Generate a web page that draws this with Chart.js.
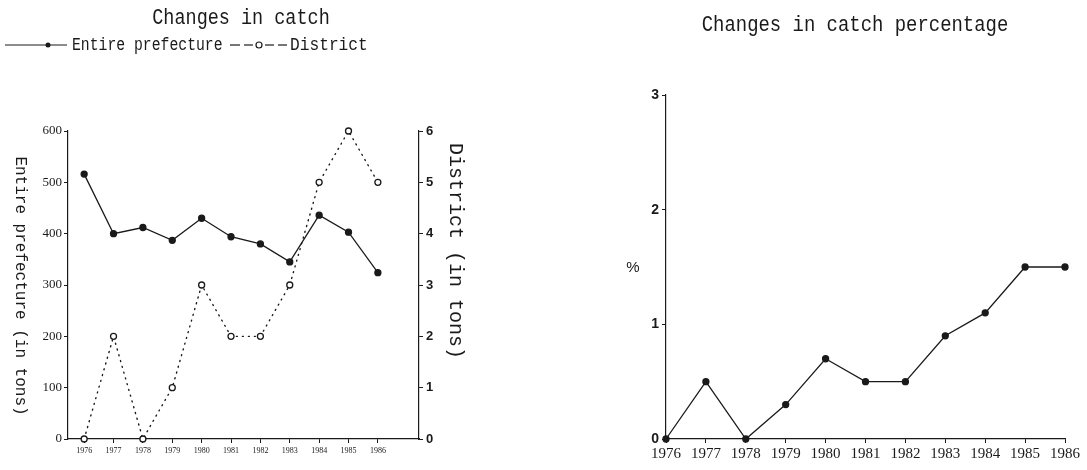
<!DOCTYPE html>
<html>
<head>
<meta charset="utf-8">
<script src="https://cdn.jsdelivr.net/npm/chart.js@4.4.1/dist/chart.umd.min.js"></script>
<style>
  html, body { margin: 0; padding: 0; background: #fff; }
  body { width: 1087px; height: 470px; position: relative; overflow: hidden; }
  #catchChart { position: absolute; left: 0; top: 0; }
  #pctChart { position: absolute; left: 560px; top: 0; }
</style>
</head>
<body>
<canvas id="catchChart" width="470" height="470"></canvas>
<canvas id="pctChart" width="527" height="470"></canvas>
<script>
// values
const years = [1976, 1977, 1978, 1979, 1980, 1981, 1982, 1983, 1984, 1985, 1986];
const prefectureTons = [516, 400, 412, 387, 430, 394, 380, 345, 436, 403, 324];
const districtTons = [0, 2, 0, 1, 3, 2, 2, 3, 5, 6, 5];
const catchPercent = [0, 0.5, 0, 0.3, 0.7, 0.5, 0.5, 0.9, 1.1, 1.5, 1.5];

const ink = '#1a1a1a';
const mono = '"Liberation Mono", "DejaVu Sans Mono", monospace';

// draws titles / rotated axis captions as canvas text
const extraText = {
    id: 'extraText',
    afterDraw(chart, args, opts) {
        const ctx = chart.ctx;
        (opts.items || []).forEach(it => {
            ctx.save();
            ctx.translate(it.x, it.y);
            if (it.rotate) ctx.rotate(it.rotate);
            ctx.scale(it.scaleX || 1, 1);
            ctx.font = it.font;
            ctx.fillStyle = ink;
            ctx.textAlign = it.align || 'center';
            ctx.textBaseline = 'middle';
            ctx.fillText(it.text, 0, 0);
            ctx.restore();
        });
    }
};

// little hand-made legend for the left chart
const legendMarks = {
    id: 'legendMarks',
    afterDraw(chart, args, opts) {
        if (!opts.show) return;
        const ctx = chart.ctx;
        const y = 45;
        ctx.save();
        ctx.strokeStyle = ink;
        ctx.fillStyle = ink;
        ctx.lineWidth = 1.2;
        ctx.beginPath();
        ctx.moveTo(5, y); ctx.lineTo(67, y);
        ctx.stroke();
        ctx.beginPath();
        ctx.arc(48, y, 2.5, 0, Math.PI * 2);
        ctx.fill();
        // dashed district sample
        [[230, 240], [244, 253], [265, 274], [278, 287]].forEach(d => {
            ctx.beginPath();
            ctx.moveTo(d[0], y); ctx.lineTo(d[1], y);
            ctx.stroke();
        });
        ctx.beginPath();
        ctx.fillStyle = '#fff';
        ctx.arc(259, y, 3, 0, Math.PI * 2);
        ctx.fill();
        ctx.stroke();
        ctx.restore();
    }
};

Chart.register(extraText, legendMarks);

const axisGrid = { drawOnChartArea: false, color: ink, tickLength: 4, tickWidth: 1 };
const axisBorder = { display: true, color: ink, width: 1.2 };

new Chart(document.getElementById('catchChart'), {
    type: 'line',
    data: {
        datasets: [{
            label: 'Entire prefecture',
            data: years.map((yr, i) => ({ x: yr, y: prefectureTons[i] })),
            yAxisID: 'y',
            borderColor: ink,
            borderWidth: 1.3,
            pointRadius: 3,
            pointBackgroundColor: ink,
            pointBorderColor: ink,
            tension: 0,
            clip: false
        }, {
            label: 'District',
            data: years.map((yr, i) => ({ x: yr, y: districtTons[i] })),
            yAxisID: 'y1',
            borderColor: ink,
            borderWidth: 1.4,
            borderDash: [1, 5],
            borderCapStyle: 'round',
            pointRadius: 3,
            pointBackgroundColor: '#fff',
            pointBorderColor: ink,
            pointBorderWidth: 1.3,
            tension: 0,
            clip: false
        }]
    },
    options: {
        responsive: false,
        animation: false,
        layout: { padding: { top: 131, left: 0, right: 0, bottom: 0 } },
        scales: {
            x: {
                type: 'linear',
                min: 1975.45,
                max: 1987.4,
                afterBuildTicks: s => { s.ticks = years.map(v => ({ value: v })); },
                afterFit: s => { s.height = 31; },
                ticks: {
                    callback: v => String(v),
                    font: { family: '"Liberation Serif", serif', size: 8 },
                    color: ink,
                    maxRotation: 0,
                    autoSkip: false,
                    padding: 3
                },
                grid: axisGrid,
                border: axisBorder
            },
            y: {
                position: 'left',
                min: 0,
                max: 600,
                afterFit: s => { s.width = 68; },
                ticks: {
                    stepSize: 100,
                    font: { family: '"Liberation Serif", serif', size: 13 },
                    color: ink,
                    padding: 2
                },
                grid: axisGrid,
                border: axisBorder
            },
            y1: {
                position: 'right',
                min: 0,
                max: 6,
                afterFit: s => { s.width = 51; },
                ticks: {
                    stepSize: 1,
                    font: { family: '"Liberation Sans", sans-serif', size: 13, weight: 'bold' },
                    color: ink,
                    padding: 3
                },
                grid: axisGrid,
                border: axisBorder
            }
        },
        plugins: {
            legend: { display: false },
            tooltip: { enabled: false },
            legendMarks: { show: true },
            extraText: {
                items: [
                    { text: 'Changes in catch', x: 241, y: 18, font: '22px ' + mono, scaleX: 0.84 },
                    { text: 'Entire prefecture', x: 72, y: 45, font: '18px ' + mono, scaleX: 0.82, align: 'left' },
                    { text: 'District', x: 290, y: 45, font: '18px ' + mono, scaleX: 0.9, align: 'left' },
                    { text: 'Entire prefecture (in tons)', x: 20, y: 286, font: '16px ' + mono, rotate: Math.PI / 2 },
                    { text: 'District (in tons)', x: 455, y: 251, font: '20px ' + mono, rotate: Math.PI / 2 }
                ]
            }
        }
    }
});

new Chart(document.getElementById('pctChart'), {
    type: 'line',
    data: {
        labels: years.map(String),
        datasets: [{
            label: 'Catch percentage',
            data: catchPercent,
            borderColor: ink,
            borderWidth: 1.3,
            pointRadius: 3,
            pointBackgroundColor: ink,
            pointBorderColor: ink,
            tension: 0,
            clip: false
        }]
    },
    options: {
        responsive: false,
        animation: false,
        layout: { padding: { top: 95, left: 0, right: 22, bottom: 0 } },
        scales: {
            x: {
                offset: false,
                afterFit: s => { s.height = 31; },
                ticks: {
                    font: { family: '"Liberation Serif", serif', size: 15 },
                    color: ink,
                    maxRotation: 0,
                    autoSkip: false,
                    padding: 2
                },
                grid: axisGrid,
                border: axisBorder
            },
            y: {
                min: 0,
                max: 3,
                afterFit: s => { s.width = 106; },
                ticks: {
                    stepSize: 1,
                    font: { family: '"Liberation Sans", sans-serif', size: 14, weight: 'bold' },
                    color: ink,
                    padding: 3
                },
                grid: axisGrid,
                border: axisBorder
            }
        },
        plugins: {
            legend: { display: false },
            tooltip: { enabled: false },
            extraText: {
                items: [
                    { text: 'Changes in catch percentage', x: 295, y: 25, font: '22px ' + mono, scaleX: 0.86 },
                    { text: '%', x: 73, y: 268, font: '15px "Liberation Sans", sans-serif' }
                ]
            }
        }
    }
});
</script>
</body>
</html>
